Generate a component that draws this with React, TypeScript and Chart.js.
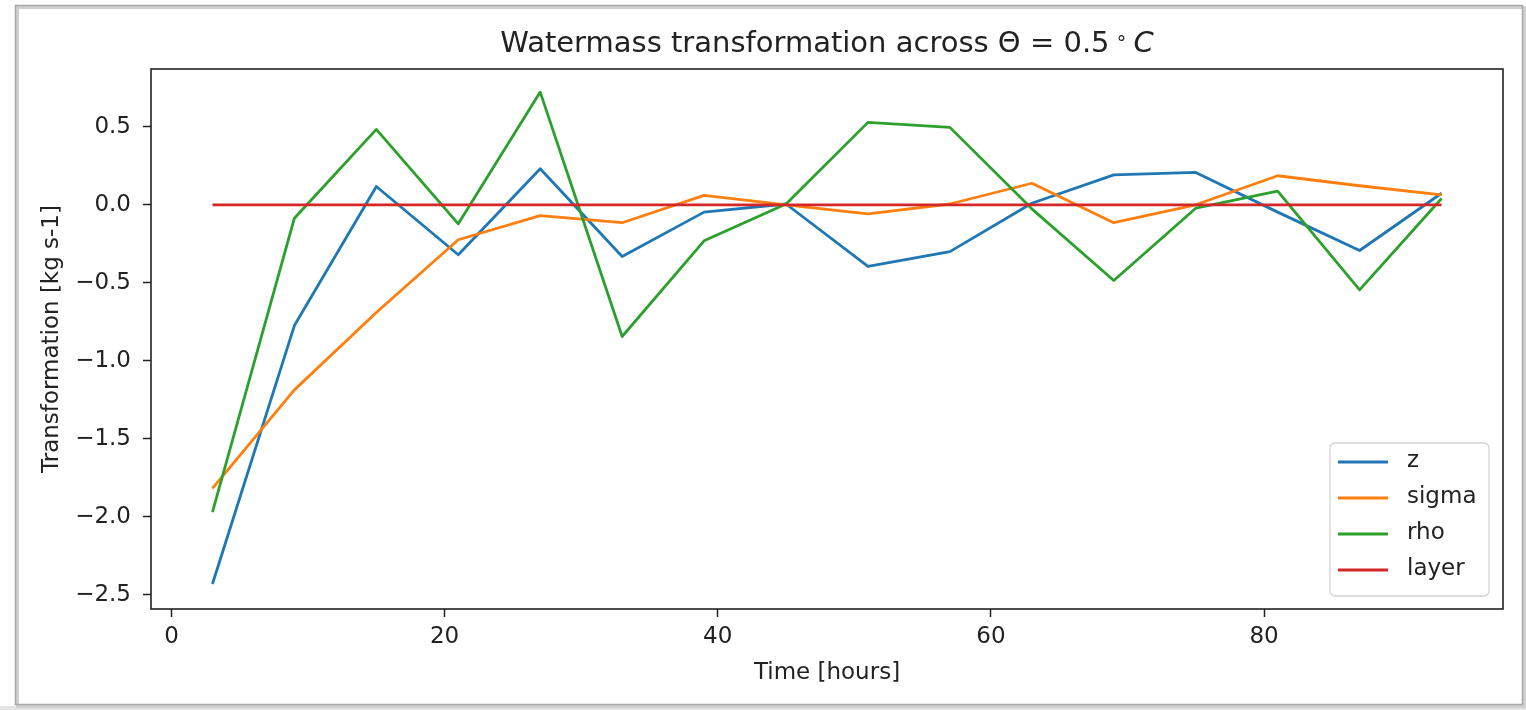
import React, { useEffect, useRef } from "react";
import { Chart, registerables } from "chart.js";

Chart.register(...registerables);

// Sampling times (hours) and transformation rates for each coordinate
const hours = [3, 9, 15, 21, 27, 33, 39, 45, 51, 57, 63, 69, 75, 81, 87, 93];
const zSeries = [-2.43, -0.774, 0.117, -0.32, 0.231, -0.331, -0.047, 0.005, -0.394, -0.3, 0.01, 0.192, 0.207, -0.047, -0.293, 0.074];
const sigmaSeries = [-1.817, -1.186, -0.69, -0.224, -0.069, -0.115, 0.06, 0.0, -0.058, 0.005, 0.138, -0.115, 0.0, 0.186, 0.122, 0.064];
const rhoSeries = [-1.97, -0.086, 0.483, -0.122, 0.722, -0.844, -0.231, 0.005, 0.528, 0.496, -0.026, -0.485, -0.022, 0.087, -0.545, 0.04];
const layerSeries = [0, 0, 0, 0, 0, 0, 0, 0, 0, 0, 0, 0, 0, 0, 0, 0];

const seriesNames = ["z", "sigma", "rho", "layer"];
const seriesColors = ["#1f77b4", "#ff7f0e", "#2ca02c", "#d62728"];

const xTickValues = [0, 20, 40, 60, 80];
const yTickValues = [-2.5, -2.0, -1.5, -1.0, -0.5, 0.0, 0.5];

const W = 1526;
const H = 710;
const FONT = "'DejaVu Sans', 'Noto Sans', sans-serif";
const TEXT = "#222222";

const fmtY = (v: number) => (v < 0 ? "\u2212" : "") + Math.abs(v).toFixed(1);

const decor = {
  id: "decor",
  beforeDraw(chart: any) {
    const ctx = chart.ctx as CanvasRenderingContext2D;
    ctx.save();
    ctx.fillStyle = "#ffffff";
    ctx.fillRect(0, 0, W, H);
    // window frame around the figure
    ctx.fillStyle = "#e4e4e4";
    ctx.fillRect(0, 706, W, H - 706);
    ctx.strokeStyle = "#d0d0d0";
    ctx.lineWidth = 3;
    ctx.strokeRect(17.5, 7.5, 1507, 699);
    ctx.strokeStyle = "#a8a8a8";
    ctx.lineWidth = 1.5;
    ctx.strokeRect(15.5, 5.5, 1507, 699);
    ctx.restore();
  },
  afterDraw(chart: any) {
    const ctx = chart.ctx as CanvasRenderingContext2D;
    const a = chart.chartArea;
    ctx.save();

    // axes frame
    ctx.strokeStyle = "#222";
    ctx.lineWidth = 1.6;
    ctx.strokeRect(a.left, a.top, a.right - a.left, a.bottom - a.top);

    // title with math part
    const cx = (a.left + a.right) / 2;
    const base = 52;
    const main = "Watermass transformation across \u0398 = 0.5";
    ctx.fillStyle = TEXT;
    ctx.textBaseline = "alphabetic";
    ctx.textAlign = "left";
    ctx.font = `29px ${FONT}`;
    const w1 = ctx.measureText(main).width;
    ctx.font = `19px ${FONT}`;
    const wr = ctx.measureText("\u2218").width;
    ctx.font = `italic 29px ${FONT}`;
    const wc = ctx.measureText("C").width;
    const g1 = 6, g2 = 6;
    const total = w1 + g1 + wr + g2 + wc;
    let x = cx - total / 2;
    ctx.font = `29px ${FONT}`;
    ctx.fillText(main, x, base);
    x += w1 + g1;
    ctx.font = `19px ${FONT}`;
    ctx.fillText("\u2218", x, base - 8);
    x += wr + g2;
    ctx.font = `italic 29px ${FONT}`;
    ctx.fillText("C", x, base);

    // axis titles
    ctx.font = `23px ${FONT}`;
    ctx.textAlign = "center";
    ctx.textBaseline = "alphabetic";
    ctx.fillText("Time [hours]", cx, 679);
    ctx.save();
    ctx.translate(58, (a.top + a.bottom) / 2);
    ctx.rotate(-Math.PI / 2);
    ctx.fillText("Transformation [kg s-1]", 0, 0);
    ctx.restore();

    // legend
    const lx = 1330, ly = 443, lw = 159, lh = 153;
    ctx.beginPath();
    ctx.roundRect(lx, ly, lw, lh, 5);
    ctx.fillStyle = "rgba(255,255,255,0.85)";
    ctx.fill();
    ctx.strokeStyle = "#d2d2d2";
    ctx.lineWidth = 1.3;
    ctx.stroke();
    const rows = [462, 498, 534, 570];
    ctx.font = `23px ${FONT}`;
    ctx.textAlign = "left";
    ctx.textBaseline = "middle";
    seriesNames.forEach((name, i) => {
      ctx.strokeStyle = seriesColors[i];
      ctx.lineWidth = 2.8;
      ctx.beginPath();
      ctx.moveTo(1338, rows[i]);
      ctx.lineTo(1388, rows[i]);
      ctx.stroke();
      ctx.fillStyle = TEXT;
      ctx.fillText(name, 1407, rows[i] - 1);
    });

    ctx.restore();
  },
};

export default function App() {
  const canvasRef = useRef<HTMLCanvasElement | null>(null);

  useEffect(() => {
    const canvas = canvasRef.current;
    if (!canvas) return;
    const allSeries = [zSeries, sigmaSeries, rhoSeries, layerSeries];
    const chart = new Chart(canvas, {
      type: "line",
      data: {
        datasets: allSeries.map((vals, i) => ({
          label: seriesNames[i],
          data: hours.map((h, j) => ({ x: h, y: vals[j] })),
          borderColor: seriesColors[i],
          backgroundColor: seriesColors[i],
          borderWidth: 2.8,
          pointRadius: 0,
          tension: 0,
          borderJoinStyle: "round" as const,
          fill: false,
          order: 3 - i,
        })),
      },
      options: {
        responsive: false,
        devicePixelRatio: 1,
        animation: false,
        layout: { padding: { left: 0, right: 23, top: 69, bottom: 0 } },
        plugins: {
          legend: { display: false },
          title: { display: false },
          tooltip: { enabled: false },
        },
        scales: {
          x: {
            type: "linear",
            min: -1.5,
            max: 97.5,
            grid: {
              display: true,
              drawOnChartArea: false,
              drawTicks: true,
              tickLength: 8,
              tickWidth: 1.5,
              tickColor: "#222",
            },
            border: { display: false },
            ticks: {
              padding: 6,
              color: TEXT,
              font: { family: FONT, size: 23 },
              maxRotation: 0,
              callback: (v: any) => String(v),
            },
            afterBuildTicks: (s: any) => {
              s.ticks = xTickValues.map((v) => ({ value: v }));
            },
            afterFit: (s: any) => {
              s.height = 101;
            },
          },
          y: {
            type: "linear",
            min: -2.59,
            max: 0.87,
            grid: {
              display: true,
              drawOnChartArea: false,
              drawTicks: true,
              tickLength: 8,
              tickWidth: 1.5,
              tickColor: "#222",
            },
            border: { display: false },
            ticks: {
              padding: 12,
              color: TEXT,
              font: { family: FONT, size: 23 },
              callback: (v: any) => fmtY(Number(v)),
            },
            afterBuildTicks: (s: any) => {
              s.ticks = yTickValues.map((v) => ({ value: v }));
            },
            afterFit: (s: any) => {
              s.width = 151;
            },
          },
        },
      },
      plugins: [decor],
    });
    return () => chart.destroy();
  }, []);

  return (
    <div style={{ position: "fixed", left: 0, top: 0, width: W, height: H, background: "#fff" }}>
      <canvas ref={canvasRef} width={W} height={H} style={{ display: "block", width: W, height: H }} />
    </div>
  );
}
